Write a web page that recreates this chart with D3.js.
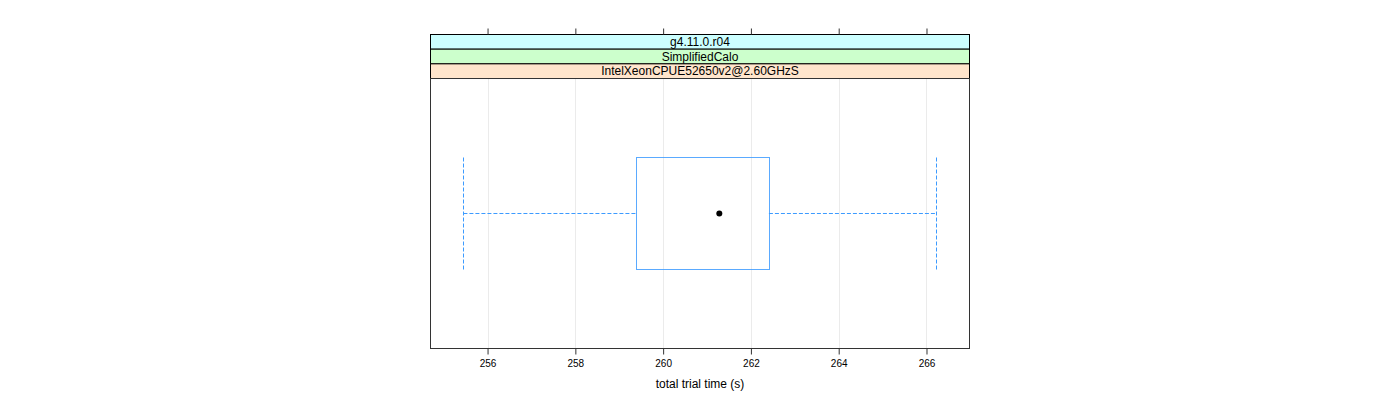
<!DOCTYPE html>
<html><head><meta charset="utf-8">
<script src="https://cdn.jsdelivr.net/npm/d3@7"></script>
<style>body{margin:0;background:#fff}svg{display:block}text{font-family:"Liberation Sans",Arial,sans-serif}</style>
</head><body><svg id="c" width="1400" height="400"></svg>
<script>
const stripLabels = ["g4.11.0.r04", "SimplifiedCalo", "IntelXeonCPUE52650v2@2.60GHzS"];
const stripColors = ["#ccffff", "#ccffcc", "#ffe5cc"];
const categories = ["IntelXeonCPUE52650v2@2.60GHzS"];
const whiskerLow = [255.45];
const q1 = [259.39];
const median = [261.28];
const q3 = [262.41];
const whiskerHigh = [266.21];
const tickValues = [256, 258, 260, 262, 264, 266];
const xDomain = [254.70, 266.98];
const xLabel = "total trial time (s)";

const svg = d3.select("#c");
const L = 430.5, R = 969.5, stripTop = 34.5, stripH = 14.67, panelTop = 78.5, panelBottom = 348.5;
const x = d3.scaleLinear().domain(xDomain).range([L, R]);
const y = d3.scaleBand().domain(categories).range([panelTop, panelBottom]).paddingInner(0).paddingOuter(0);
const boxH = 112;

// grid
svg.append("g").selectAll("line").data(tickValues).join("line")
  .attr("x1", d => Math.round(x(d)) + 0.5).attr("x2", d => Math.round(x(d)) + 0.5)
  .attr("y1", panelTop).attr("y2", panelBottom)
  .attr("stroke", "#ebebeb").attr("stroke-width", 1);

// strips
stripLabels.forEach((s, i) => {
  const yy = stripTop + i * stripH;
  svg.append("rect").attr("x", L).attr("y", yy).attr("width", R - L).attr("height", stripH)
    .attr("fill", stripColors[i]).attr("stroke", "#000").attr("stroke-width", 1);
  svg.append("text").attr("x", (L + R) / 2).attr("y", yy + stripH / 2 + 4.3)
    .attr("text-anchor", "middle").attr("font-size", 12).attr("fill", "#000").text(s);
});

// panel border
svg.append("rect").attr("x", L).attr("y", panelTop).attr("width", R - L).attr("height", panelBottom - panelTop)
  .attr("fill", "none").attr("stroke", "#333").attr("stroke-width", 1);

// axes
const bottomAxis = d3.axisBottom(x).tickValues(tickValues).tickSize(6).tickFormat(d3.format("d"));
const gb = svg.append("g").attr("transform", `translate(0,${panelBottom})`).call(bottomAxis);
gb.select(".domain").remove();
gb.selectAll("line").attr("stroke", "#333");
gb.selectAll("text").attr("font-size", 10).attr("fill", "#000").attr("dy", "0.95em").attr("font-family", '"Liberation Sans",Arial,sans-serif');
const topAxis = d3.axisTop(x).tickValues(tickValues).tickSize(6).tickFormat("");
const gt = svg.append("g").attr("transform", `translate(0,${stripTop})`).call(topAxis);
gt.select(".domain").remove();
gt.selectAll("line").attr("stroke", "#333");

svg.append("text").attr("x", (L + R) / 2).attr("y", 388).attr("text-anchor", "middle")
  .attr("font-size", 12).attr("fill", "#000").text(xLabel);

// box plot
const col = "#3d9bff";
categories.forEach((c, i) => {
  const cy = Math.round(y(c) + y.bandwidth() / 2) - 0.5;
  const g = svg.append("g");
  // whiskers
  g.append("line").attr("x1", x(whiskerLow[i])).attr("x2", x(q1[i])).attr("y1", cy).attr("y2", cy)
    .attr("stroke", col).attr("stroke-dasharray", "4,2");
  g.append("line").attr("x1", x(q3[i])).attr("x2", x(whiskerHigh[i])).attr("y1", cy).attr("y2", cy)
    .attr("stroke", col).attr("stroke-dasharray", "4,2");
  [whiskerLow[i], whiskerHigh[i]].forEach(v => {
    const xx = Math.round(x(v)) + 0.5;
    g.append("line").attr("x1", xx).attr("x2", xx).attr("y1", cy - boxH / 2).attr("y2", cy + boxH / 2)
      .attr("stroke", col).attr("stroke-dasharray", "4,2");
  });
  g.append("rect").attr("x", Math.round(x(q1[i])) + 0.5).attr("y", cy - boxH / 2)
    .attr("width", Math.round(x(q3[i])) - Math.round(x(q1[i]))).attr("height", boxH)
    .attr("fill", "none").attr("stroke", col).attr("stroke-opacity", 0.85);
  g.append("circle").attr("cx", x(median[i])).attr("cy", cy).attr("r", 3).attr("fill", "#000");
});
</script></body></html>
